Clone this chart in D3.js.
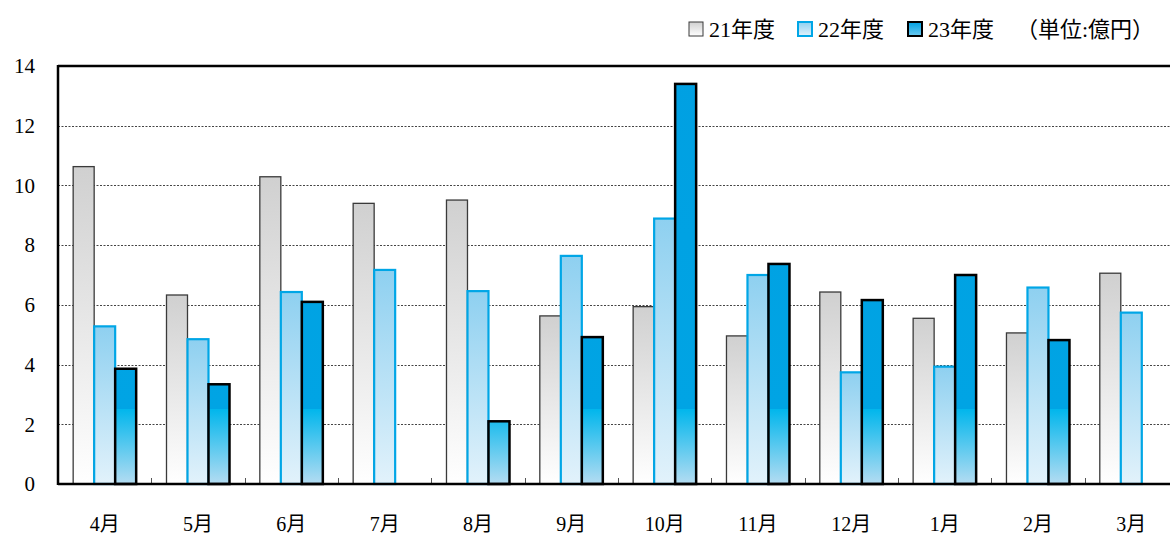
<!DOCTYPE html>
<meta charset="utf-8">
<style>
body{margin:0;background:#fff;}
text{font-family:"Liberation Serif","DejaVu Serif","Noto Sans CJK JP",serif;}
</style>
<body>
<div id="chart"></div>
<script src="https://d3js.org/d3.v7.min.js"></script>
<script>

var months = ["4月","5月","6月","7月","8月","9月","10月","11月","12月","1月","2月","3月"];
var seriesNames = ["21年度","22年度","23年度"];
var fy21 = [10.63, 6.33, 10.29, 9.40, 9.51, 5.63, 5.94, 4.96, 6.43, 5.55, 5.06, 7.06];
var fy22 = [5.28, 4.85, 6.43, 7.17, 6.46, 7.64, 8.89, 7.00, 3.74, 3.93, 6.58, 5.74];
var fy23 = [3.86, 3.34, 6.10, null, 2.10, 4.92, 13.40, 7.37, 6.16, 7.00, 4.82, null];
var yTicks = [0, 2, 4, 6, 8, 10, 12, 14];
var unitLabel = "（単位:億円）";

var width = 1170,
    height = 536;
var plotLeft = 58, plotTop = 66, plotBottom = 484;
var band = 93.33;

var svg = d3.select("#chart").append("svg")
    .attr("width", width)
    .attr("height", height);

var defs = svg.append("defs");

var g1 = defs.append("linearGradient").attr("id", "g21")
    .attr("x1", 0).attr("y1", 0).attr("x2", 0).attr("y2", 1);
g1.append("stop").attr("offset", 0).attr("stop-color", "#d0d0d0");
g1.append("stop").attr("offset", 1).attr("stop-color", "#ffffff");

var g2 = defs.append("linearGradient").attr("id", "g22")
    .attr("x1", 0).attr("y1", 0).attr("x2", 0).attr("y2", 1);
g2.append("stop").attr("offset", 0).attr("stop-color", "#8ed0f0");
g2.append("stop").attr("offset", 1).attr("stop-color", "#e2f2fb");

// dark bars: gradient fixed to the plot, so short bars look lighter
var g3 = defs.append("linearGradient").attr("id", "g23")
    .attr("gradientUnits", "userSpaceOnUse")
    .attr("x1", 0).attr("y1", plotTop).attr("x2", 0).attr("y2", plotBottom);
g3.append("stop").attr("offset", 0).attr("stop-color", "#00a0e2");
g3.append("stop").attr("offset", 0.82).attr("stop-color", "#00a4e4");
g3.append("stop").attr("offset", 0.82).attr("stop-color", "#00b6ec");
g3.append("stop").attr("offset", 1).attr("stop-color", "#b4dcf2");

var legG = defs.append("linearGradient").attr("id", "leg23")
    .attr("x1", 0).attr("y1", 0).attr("x2", 0).attr("y2", 1);
legG.append("stop").attr("offset", 0).attr("stop-color", "#00a0e2");
legG.append("stop").attr("offset", 1).attr("stop-color", "#6ccaf0");

var fills = ["url(#g21)", "url(#g22)", "url(#g23)"];
var strokes = ["#3a3a3a", "#00a6e6", "#000"];
var strokeW = [1.3, 2.2, 2.5];

var x0 = d3.scaleBand()
    .domain(months)
    .range([plotLeft, plotLeft + band * months.length]);

var x1 = d3.scaleBand()
    .domain(seriesNames)
    .range([(band - 63) / 2, (band + 63) / 2]);

var y = d3.scaleLinear()
    .domain([0, 14])
    .range([plotBottom, plotTop]);

// grid
svg.append("g").selectAll("line")
    .data(yTicks.filter(function(d){ return d > 0 && d < 14; }))
  .enter().append("line")
    .attr("x1", plotLeft).attr("x2", width)
    .attr("y1", function(d){ return Math.round(y(d)) + 0.5; })
    .attr("y2", function(d){ return Math.round(y(d)) + 0.5; })
    .style("stroke", "#444")
    .style("stroke-width", 1)
    .style("stroke-dasharray", "2,1.5");

// y labels
svg.append("g").selectAll("text")
    .data(yTicks)
  .enter().append("text")
    .attr("x", 35)
    .attr("y", function(d){ return y(d); })
    .attr("dy", "0.35em")
    .attr("text-anchor", "end")
    .style("font-size", "21px")
    .text(function(d){ return d; });

// bars
var series = [fy21, fy22, fy23];
seriesNames.forEach(function(name, i) {
  svg.append("g").selectAll("rect")
      .data(months.map(function(m, j){ return {m: m, v: series[i][j]}; })
        .filter(function(d){ return d.v != null; }))
    .enter().append("rect")
      .attr("x", function(d){ return x0(d.m) + x1(name); })
      .attr("y", function(d){ return y(d.v); })
      .attr("width", x1.bandwidth())
      .attr("height", function(d){ return plotBottom - y(d.v); })
      .style("fill", fills[i])
      .style("stroke", strokes[i])
      .style("stroke-width", strokeW[i]);
});

// small ticks between months
svg.append("g").selectAll("line")
    .data(months.slice(1))
  .enter().append("line")
    .attr("x1", function(d){ return Math.round(x0(d)) + 0.5; })
    .attr("x2", function(d){ return Math.round(x0(d)) + 0.5; })
    .attr("y1", plotBottom - 6).attr("y2", plotBottom)
    .style("stroke", "#555")
    .style("stroke-width", 1);

// frame
svg.append("line").attr("x1", plotLeft).attr("x2", width).attr("y1", plotTop).attr("y2", plotTop)
    .style("stroke", "#000").style("stroke-width", 2.5);
svg.append("line").attr("x1", plotLeft).attr("x2", width).attr("y1", plotBottom).attr("y2", plotBottom)
    .style("stroke", "#000").style("stroke-width", 2.5);
svg.append("line").attr("x1", plotLeft).attr("x2", plotLeft).attr("y1", plotTop - 1).attr("y2", plotBottom + 1)
    .style("stroke", "#000").style("stroke-width", 2.5);

// x labels
svg.append("g").selectAll("text")
    .data(months)
  .enter().append("text")
    .attr("x", function(d){ return x0(d) + x0.bandwidth() / 2; })
    .attr("y", 531)
    .attr("text-anchor", "middle")
    .style("font-size", "20px")
    .text(function(d){ return d; });

// legend
var legX = [689, 798, 908];
var legFill = ["url(#g21)", "url(#g22)", "url(#leg23)"];
seriesNames.forEach(function(name, i) {
  svg.append("rect")
      .attr("x", legX[i]).attr("y", 22)
      .attr("width", 14).attr("height", 14)
      .style("fill", legFill[i])
      .style("stroke", strokes[i])
      .style("stroke-width", i == 0 ? 1 : 2);
  svg.append("text")
      .attr("x", legX[i] + 20).attr("y", 37)
      .style("font-size", "22px")
      .text(name);
});
svg.append("text")
    .attr("x", 1016).attr("y", 37)
    .style("font-size", "22px")
    .text(unitLabel);

</script>
</body>
</html>
